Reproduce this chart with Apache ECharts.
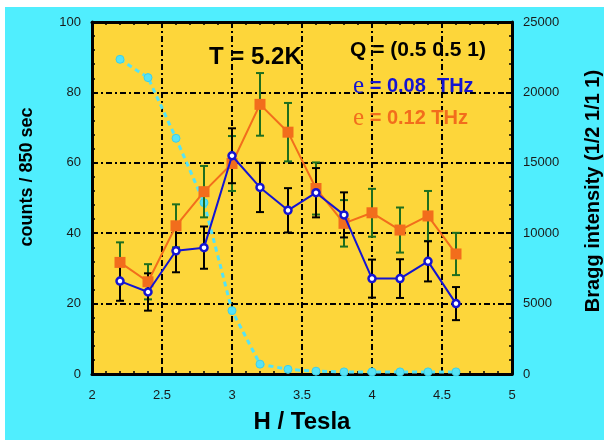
<!DOCTYPE html>
<html>
<head>
<meta charset="utf-8">
<script src="https://cdn.jsdelivr.net/npm/echarts@6/dist/echarts.min.js"></script>
<style>
html,body{margin:0;padding:0;background:#ffffff;}
#c{width:604px;height:440px;}
</style>
</head>
<body>
<div id="c"></div>
<script>
// ---- data ----
var fieldH = [2.2, 2.4, 2.6, 2.8, 3.0, 3.2, 3.4, 3.6, 3.8, 4.0, 4.2, 4.4, 4.6];
var counts008 = [26.4, 23.3, 35.0, 35.9, 62.0, 53.0, 46.5, 51.5, 45.2, 27.1, 27.1, 32.0, 20.0];
var err008 = [5.6, 5.3, 6.1, 6.0, 7.8, 7.0, 6.3, 7.0, 6.4, 5.4, 5.5, 5.7, 4.7];
var counts012 = [31.7, 26.2, 42.1, 51.8, 59.8, 76.6, 68.7, 52.7, 42.8, 45.8, 40.9, 44.9, 34.1];
var err012 = [5.7, 5.0, 6.1, 7.3, 7.8, 8.9, 8.3, 7.4, 6.6, 6.8, 6.4, 7.1, 6.0];
var braggIntensity = [22350, 21050, 16740, 12170, 4500, 700, 330, 200, 150, 150, 150, 150, 150];
var xTicks = [2, 2.5, 3, 3.5, 4, 4.5, 5];
var leftTicks = [0, 20, 40, 60, 80, 100];
var rightTicks = [0, 5000, 10000, 15000, 20000, 25000];

var BLUE = '#1414d2', ORANGE = '#f26d1c', GREEN = '#1f6e1f', CYAN = '#55e3f6';
var BG = '#50eefe', PLOT = '#fdd63a';
var FONT = 'Liberation Sans, Arial, sans-serif';

function pairs(xs, ys) { return xs.map(function (x, i) { return [x, ys[i]]; }); }
function errData(xs, ys, es) { return xs.map(function (x, i) { return [x, ys[i], es[i]]; }); }

function errRender(color) {
  return function (params, api) {
    var x = api.value(0), y = api.value(1), e = api.value(2);
    var top = api.coord([x, y + e]);
    var bot = api.coord([x, y - e]);
    var hw = 4;
    var st = { stroke: color, lineWidth: 2 };
    return {
      type: 'group',
      children: [
        { type: 'line', shape: { x1: top[0], y1: top[1], x2: bot[0], y2: bot[1] }, style: st },
        { type: 'line', shape: { x1: top[0] - hw, y1: top[1], x2: top[0] + hw, y2: top[1] }, style: st },
        { type: 'line', shape: { x1: bot[0] - hw, y1: bot[1], x2: bot[0] + hw, y2: bot[1] }, style: st }
      ]
    };
  };
}

var chart = echarts.init(document.getElementById('c'), null, { renderer: 'canvas' });

var tickLabel = { color: '#1a1a1a', fontSize: 13, fontFamily: FONT, formatter: function (v) { return String(v); } };
var gridDash = { color: '#000', width: 2, type: [6, 3, 2, 3] };

var option = {
  animation: false,
  backgroundColor: '#ffffff',
  graphic: [
    { type: 'rect', z: -10, shape: { x: 5, y: 7, width: 599, height: 433 }, style: { fill: BG } },
    { type: 'text', x: 27, y: 177, rotation: Math.PI / 2, z: 50,
      style: { text: 'counts / 850 sec', font: 'bold 18px ' + FONT, fill: '#000', textAlign: 'center', textVerticalAlign: 'middle' } },
    { type: 'text', x: 593, y: 191, rotation: Math.PI / 2, z: 50,
      style: { text: 'Bragg intensity (1/2 1/1 1)', font: 'bold 20px ' + FONT, fill: '#000', textAlign: 'center', textVerticalAlign: 'middle' } },
    { type: 'text', x: 209, y: 57, z: 50,
      style: { text: 'T = 5.2K', font: 'bold 24px ' + FONT, fill: '#000', textAlign: 'left', textVerticalAlign: 'middle' } },
    { type: 'text', x: 350, y: 50, z: 50,
      style: { text: 'Q = (0.5 0.5 1)', font: 'bold 21px ' + FONT, fill: '#000', textAlign: 'left', textVerticalAlign: 'middle' } },
    { type: 'text', x: 353, y: 86, z: 50,
      style: { text: '{s|e} = 0.08  THz', font: 'bold 20px ' + FONT, fill: BLUE, textAlign: 'left', textVerticalAlign: 'middle',
        rich: { s: { fontFamily: 'Liberation Serif, Times New Roman, serif', fontWeight: 'normal', fontSize: 25, fill: BLUE, color: BLUE } } } },
    { type: 'text', x: 353, y: 118, z: 50,
      style: { text: '{s|e} = 0.12 THz', font: 'bold 20px ' + FONT, fill: ORANGE, textAlign: 'left', textVerticalAlign: 'middle',
        rich: { s: { fontFamily: 'Liberation Serif, Times New Roman, serif', fontWeight: 'normal', fontSize: 25, fill: ORANGE, color: ORANGE } } } }
  ],
  grid: { left: 92, right: 92, top: 22, bottom: 66, show: true, backgroundColor: PLOT, borderWidth: 0 },
  xAxis: [
    {
      type: 'value', min: xTicks[0], max: xTicks[xTicks.length - 1], interval: 0.5, position: 'bottom',
      name: 'H / Tesla', nameLocation: 'middle', nameGap: 36,
      nameTextStyle: { fontSize: 24, fontWeight: 'bold', fontFamily: FONT, color: '#000', lineHeight: 24 },
      axisLine: { show: true, onZero: false, lineStyle: { color: '#000', width: 3 } },
      axisTick: { inside: true, length: 6, lineStyle: { color: '#000', width: 2 } },
      minorTick: { show: true, splitNumber: 5, length: 3, lineStyle: { color: '#000', width: 1.5 } },
      axisLabel: Object.assign({ margin: 15 }, tickLabel),
      splitLine: { show: true, lineStyle: gridDash }
    },
    {
      type: 'value', min: xTicks[0], max: xTicks[xTicks.length - 1], interval: 0.5, position: 'top',
      axisLine: { show: true, onZero: false, lineStyle: { color: '#000', width: 3 } },
      axisTick: { inside: true, length: 6, lineStyle: { color: '#000', width: 2 } },
      minorTick: { show: true, splitNumber: 5, length: 3, lineStyle: { color: '#000', width: 1.5 } },
      axisLabel: { show: false },
      splitLine: { show: false }
    }
  ],
  yAxis: [
    {
      type: 'value', min: leftTicks[0], max: leftTicks[leftTicks.length - 1], interval: 20, position: 'left',
      axisLine: { show: true, onZero: false, lineStyle: { color: '#000', width: 3 } },
      axisTick: { inside: true, length: 6, lineStyle: { color: '#000', width: 2 } },
      minorTick: { show: true, splitNumber: 5, length: 3, lineStyle: { color: '#000', width: 1.5 } },
      axisLabel: Object.assign({ margin: 11 }, tickLabel),
      splitLine: { show: true, lineStyle: gridDash }
    },
    {
      type: 'value', min: rightTicks[0], max: rightTicks[rightTicks.length - 1], interval: 5000, position: 'right',
      axisLine: { show: true, onZero: false, lineStyle: { color: '#000', width: 3 } },
      axisTick: { inside: true, length: 6, lineStyle: { color: '#000', width: 2 } },
      minorTick: { show: true, splitNumber: 5, length: 3, lineStyle: { color: '#000', width: 1.5 } },
      axisLabel: Object.assign({ margin: 11 }, tickLabel),
      splitLine: { show: false }
    }
  ],
  series: [
    {
      name: 'Bragg', type: 'line', yAxisIndex: 1, z: 3,
      data: pairs(fieldH, braggIntensity),
      symbol: 'circle', symbolSize: 8,
      lineStyle: { color: CYAN, width: 3, type: [5, 4] },
      itemStyle: { color: CYAN, borderColor: '#3fcfe8', borderWidth: 1 }
    },
    {
      name: 'err012', type: 'custom', z: 4,
      data: errData(fieldH, counts012, err012),
      renderItem: errRender(GREEN)
    },
    {
      name: 'err008', type: 'custom', z: 4,
      data: errData(fieldH, counts008, err008),
      renderItem: errRender('#000')
    },
    {
      name: 'e = 0.12 THz', type: 'line', z: 6,
      data: pairs(fieldH, counts012),
      symbol: 'rect', symbolSize: 11,
      lineStyle: { color: ORANGE, width: 2 },
      itemStyle: { color: ORANGE }
    },
    {
      name: 'e = 0.08 THz', type: 'line', z: 7,
      data: pairs(fieldH, counts008),
      symbol: 'circle', symbolSize: 7,
      lineStyle: { color: BLUE, width: 2 },
      itemStyle: { color: '#ffffff', borderColor: BLUE, borderWidth: 2.5 }
    }
  ]
};
chart.setOption(option);
</script>
</body>
</html>
